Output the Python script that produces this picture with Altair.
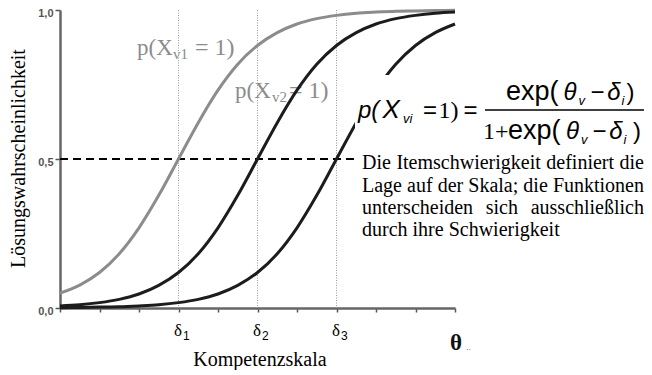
import altair as alt
import pandas as pd

# ---------------- data ----------------
theta_grid = [0, 0.5, 1, 1.5, 2, 2.5, 3, 3.5, 4, 4.5, 5, 5.5, 6, 6.5, 7, 7.5, 8, 8.5, 9, 9.5, 10]
p_item1 = [0.050, 0.077, 0.119, 0.182, 0.269, 0.378, 0.500, 0.622, 0.731, 0.818, 0.881,
           0.924, 0.953, 0.971, 0.982, 0.989, 0.993, 0.996, 0.997, 0.998, 0.999]
p_item2 = [0.007, 0.011, 0.018, 0.029, 0.047, 0.076, 0.119, 0.182, 0.269, 0.378, 0.500,
           0.622, 0.731, 0.818, 0.881, 0.924, 0.953, 0.971, 0.982, 0.989, 0.993]
p_item3 = [0.001, 0.002, 0.003, 0.004, 0.007, 0.011, 0.018, 0.029, 0.047, 0.076, 0.119,
           0.182, 0.269, 0.378, 0.500, 0.622, 0.731, 0.818, 0.881, 0.924, 0.953]
curve_ids = ["1", "2", "3"]
difficulties = [3, 5, 7]
difficulty_subs = ["1", "2", "3"]
x_ticks = [0, 1, 2, 3, 4, 5, 6, 7, 8, 9, 10]
y_ticks = [0, 0.5, 1]
half_line = [0.5]

x_title = "Kompetenzskala"
y_title = "Lösungswahrscheinlichkeit"
delta_sym = "δ"
theta_sym = "θ"
theta_tail = ".."
label_head = "p(X"
label_subs = ["v1", "v2"]
label_tail = "= 1)"
desc_lines = [
    "Die Itemschwierigkeit definiert die",
    "Lage auf der Skala; die Funktionen",
    "unterscheiden sich ausschließlich",
    "durch ihre Schwierigkeit",
]
# formula runs: (text, kind)  kinds: n sans, i sans italic, s serif, sub italic subscript
formula_left = [("p(", "i"), ("X", "i"), ("vi", "sub"), ("=", "n"), ("1)", "s"), ("=", "n")]
formula_num = [("exp(", "n"), ("θ", "i"), ("v", "sub"), ("−", "n"), ("δ", "i"), ("i", "sub"), (")", "n")]
formula_den = [("1+", "s"), ("exp(", "n"), ("θ", "i"), ("v", "sub"), ("−", "n"), ("δ", "i"), ("i", "sub"), (")", "n")]

# ---------------- layout (pixels relative to plot origin) ----------------
W, H = 395, 298
RIGHT_PAD = 189
SERIF = "Liberation Serif"
SANS = "Liberation Sans"

# (align, x) for each run
left_pos = [("left", 298), ("left", 322.5), ("left", 343), ("center", 370), ("left", 378.5), ("center", 410.5)]
num_pos = [("left", 446), ("center", 510), ("left", 518.5), ("center", 537.5), ("center", 554), ("left", 561.5), ("center", 570.5)]
den_pos = [("left", 423), ("left", 448), ("center", 512.5), ("left", 521), ("center", 539.5), ("center", 556), ("left", 563.5), ("center", 577)]
X_SIZE = {"X": 26}

desc_y = [159, 181.5, 203.5, 225.5]
DESC_LEFT, DESC_RIGHT, DESC_SIZE = 302, 584, 20
# Times-compatible advance widths (em) used to justify the text block
EM = {" ": .25, "a": .444, "b": .5, "c": .444, "d": .5, "e": .444, "f": .333, "g": .5, "h": .5,
      "i": .278, "k": .5, "l": .278, "m": .778, "n": .5, "o": .5, "p": .5, "r": .333, "s": .389,
      "t": .278, "u": .5, "w": .722, "z": .444, "ß": .5, ";": .278, "D": .722, "I": .333,
      "L": .611, "S": .556, "F": .556}

one = pd.DataFrame({"k": [0]})


def T(s, x, y, size, font=SANS, style="normal", weight="normal", align="left", color="#000000"):
    return alt.Chart(one).mark_text(
        align=align, baseline="alphabetic", font=font, fontSize=size,
        fontStyle=style, fontWeight=weight, color=color,
    ).encode(x=alt.value(x), y=alt.value(y), text=alt.value(s))


x_scale = alt.Scale(domain=[0, 10], nice=False, zero=False)
y_scale = alt.Scale(domain=[0, 1], nice=False)
x_axis = alt.Axis(values=x_ticks, labels=False, grid=False, tickSize=4, tickWidth=1.5,
                  tickColor="#555555", domainColor="#666666", domainWidth=2.5,
                  title=x_title, titleFont=SERIF, titleFontSize=20, titleFontWeight="normal",
                  titleColor="#000000", titleX=W / 2 + 2, titleY=57, titleBaseline="alphabetic",
                  titleAlign="center")
y_axis = alt.Axis(values=y_ticks, grid=False, tickSize=5, tickWidth=1.5, tickColor="#555555",
                  domainColor="#666666", domainWidth=2.5,
                  labelExpr="replace(format(datum.value, '.1f'), '.', ',')",
                  labelFont=SANS, labelFontWeight="bold", labelFontSize=11, labelColor="#555555",
                  labelPadding=2, labelOffset=3,
                  title=y_title, titleFont=SERIF, titleFontSize=20, titleFontWeight="normal",
                  titleColor="#000000", titleAngle=-90, titleX=-36, titleY=H / 2 - 1,
                  titleBaseline="alphabetic", titleAlign="center")


def X(field):
    return alt.X(field, type="quantitative", scale=x_scale, axis=x_axis)


def Y(field):
    return alt.Y(field, type="quantitative", scale=y_scale, axis=y_axis)


curves = pd.DataFrame({
    "x": theta_grid * 3,
    "p": p_item1 + p_item2 + p_item3,
    "curve": sum([[c] * len(theta_grid) for c in curve_ids], []),
})
deltas = pd.DataFrame({"x": difficulties, "sub": difficulty_subs})
half = pd.DataFrame({"p": half_line})

layers = []

# curve labels (drawn beneath everything)
label_pos = [(77, 45, 113, 49, 135), (175, 88, 212, 92, 229)]
for sub, (hx, hy, sx, sy, tx) in zip(label_subs, label_pos):
    layers.append(T(label_head, hx, hy, 23, font=SERIF, color="#8c8c8c"))
    layers.append(T(sub, sx, sy, 15, font=SERIF, color="#8c8c8c"))
    layers.append(T(label_tail, tx, hy, 24, font=SERIF, color="#8c8c8c"))

# vertical dotted lines at the difficulties
layers.append(alt.Chart(deltas).mark_rule(color="#9a9a9a", strokeWidth=1, strokeDash=[1, 1.5]).encode(x=X("x")))

# dashed line at p = 0.5
layers.append(alt.Chart(half).mark_rule(color="#000000", strokeWidth=2, strokeDash=[8, 5]).encode(
    y=Y("p"), x=alt.value(0), x2=alt.value(W)))

# item characteristic curves
layers.append(alt.Chart(curves).mark_line(strokeWidth=3, interpolate="monotone").encode(
    x=X("x"), y=Y("p"),
    color=alt.Color("curve:N", scale=alt.Scale(domain=curve_ids, range=["#8c8c8c", "#1c1c1c", "#1c1c1c"]), legend=None),
))

# white panel behind formula and text
layers.append(alt.Chart(one).mark_rect(color="#ffffff").encode(
    x=alt.value(295), x2=alt.value(W + RIGHT_PAD), y=alt.value(65), y2=alt.value(238)))


def runs(items, pos, base, sub_base):
    out = []
    for (g, kind), (al, px) in zip(items, pos):
        if kind == "sub":
            out.append(T(g, px, sub_base, 13, style="italic", align=al))
        elif kind == "i":
            out.append(T(g, px, base, X_SIZE.get(g, 24), style="italic", align=al))
        elif kind == "s":
            out.append(T(g, px, base, 24, font=SERIF, align=al))
        elif g.startswith("exp"):
            out.append(T(g, px, base, 27, align=al))
        else:
            out.append(T(g, px, base, 24, align=al))
    return out


layers += runs(formula_left, left_pos, 108, 113)
layers += runs(formula_num, num_pos, 90, 95)
layers += runs(formula_den, den_pos, 128.5, 133.5)
layers.append(alt.Chart(one).mark_rule(color="#000000", strokeWidth=1.5).encode(
    x=alt.value(425), x2=alt.value(W + RIGHT_PAD), y=alt.value(100)))

# description text, justified word by word (last line left aligned)
for k, (line, yb) in enumerate(zip(desc_lines, desc_y)):
    if k == len(desc_lines) - 1:
        layers.append(T(line, DESC_LEFT, yb, DESC_SIZE, font=SERIF))
        continue
    words = line.split(" ")
    widths = [sum(EM.get(ch, .5) for ch in w) * DESC_SIZE for w in words]
    gap = (DESC_RIGHT - DESC_LEFT - sum(widths)) / (len(words) - 1)
    xpos = DESC_LEFT
    for j, (w, wd) in enumerate(zip(words, widths)):
        if j == len(words) - 1:
            layers.append(T(w, DESC_RIGHT, yb, DESC_SIZE, font=SERIF, align="right"))
        else:
            layers.append(T(w, xpos, yb, DESC_SIZE, font=SERIF))
        xpos += wd + gap

# difficulty labels under the axis
layers.append(alt.Chart(deltas).mark_text(font=SERIF, fontSize=17, align="center", baseline="alphabetic", dx=-0.5, color="#000000").encode(
    x=X("x"), y=alt.value(326), text=alt.value(delta_sym)))
layers.append(alt.Chart(deltas).mark_text(font=SANS, fontSize=12, align="left", baseline="alphabetic", dx=4.5, color="#000000").encode(
    x=X("x"), y=alt.value(330), text="sub:N"))

# theta symbol at the end of the axis
layers.append(T(theta_sym, 396, 340, 23, font=SERIF, weight="bold", align="center", color="#111111"))
layers.append(T(theta_tail, 406, 340, 9, font=SANS, color="#777777"))

chart = alt.layer(*layers).properties(
    width=W, height=H,
    padding={"left": 52, "top": 2, "right": RIGHT_PAD, "bottom": 62},
    autosize=alt.AutoSizeParams(type="none"),
    background="#ffffff",
).configure_view(stroke=None)

chart.save("out.html", embed_options={"renderer": "svg", "actions": False})
